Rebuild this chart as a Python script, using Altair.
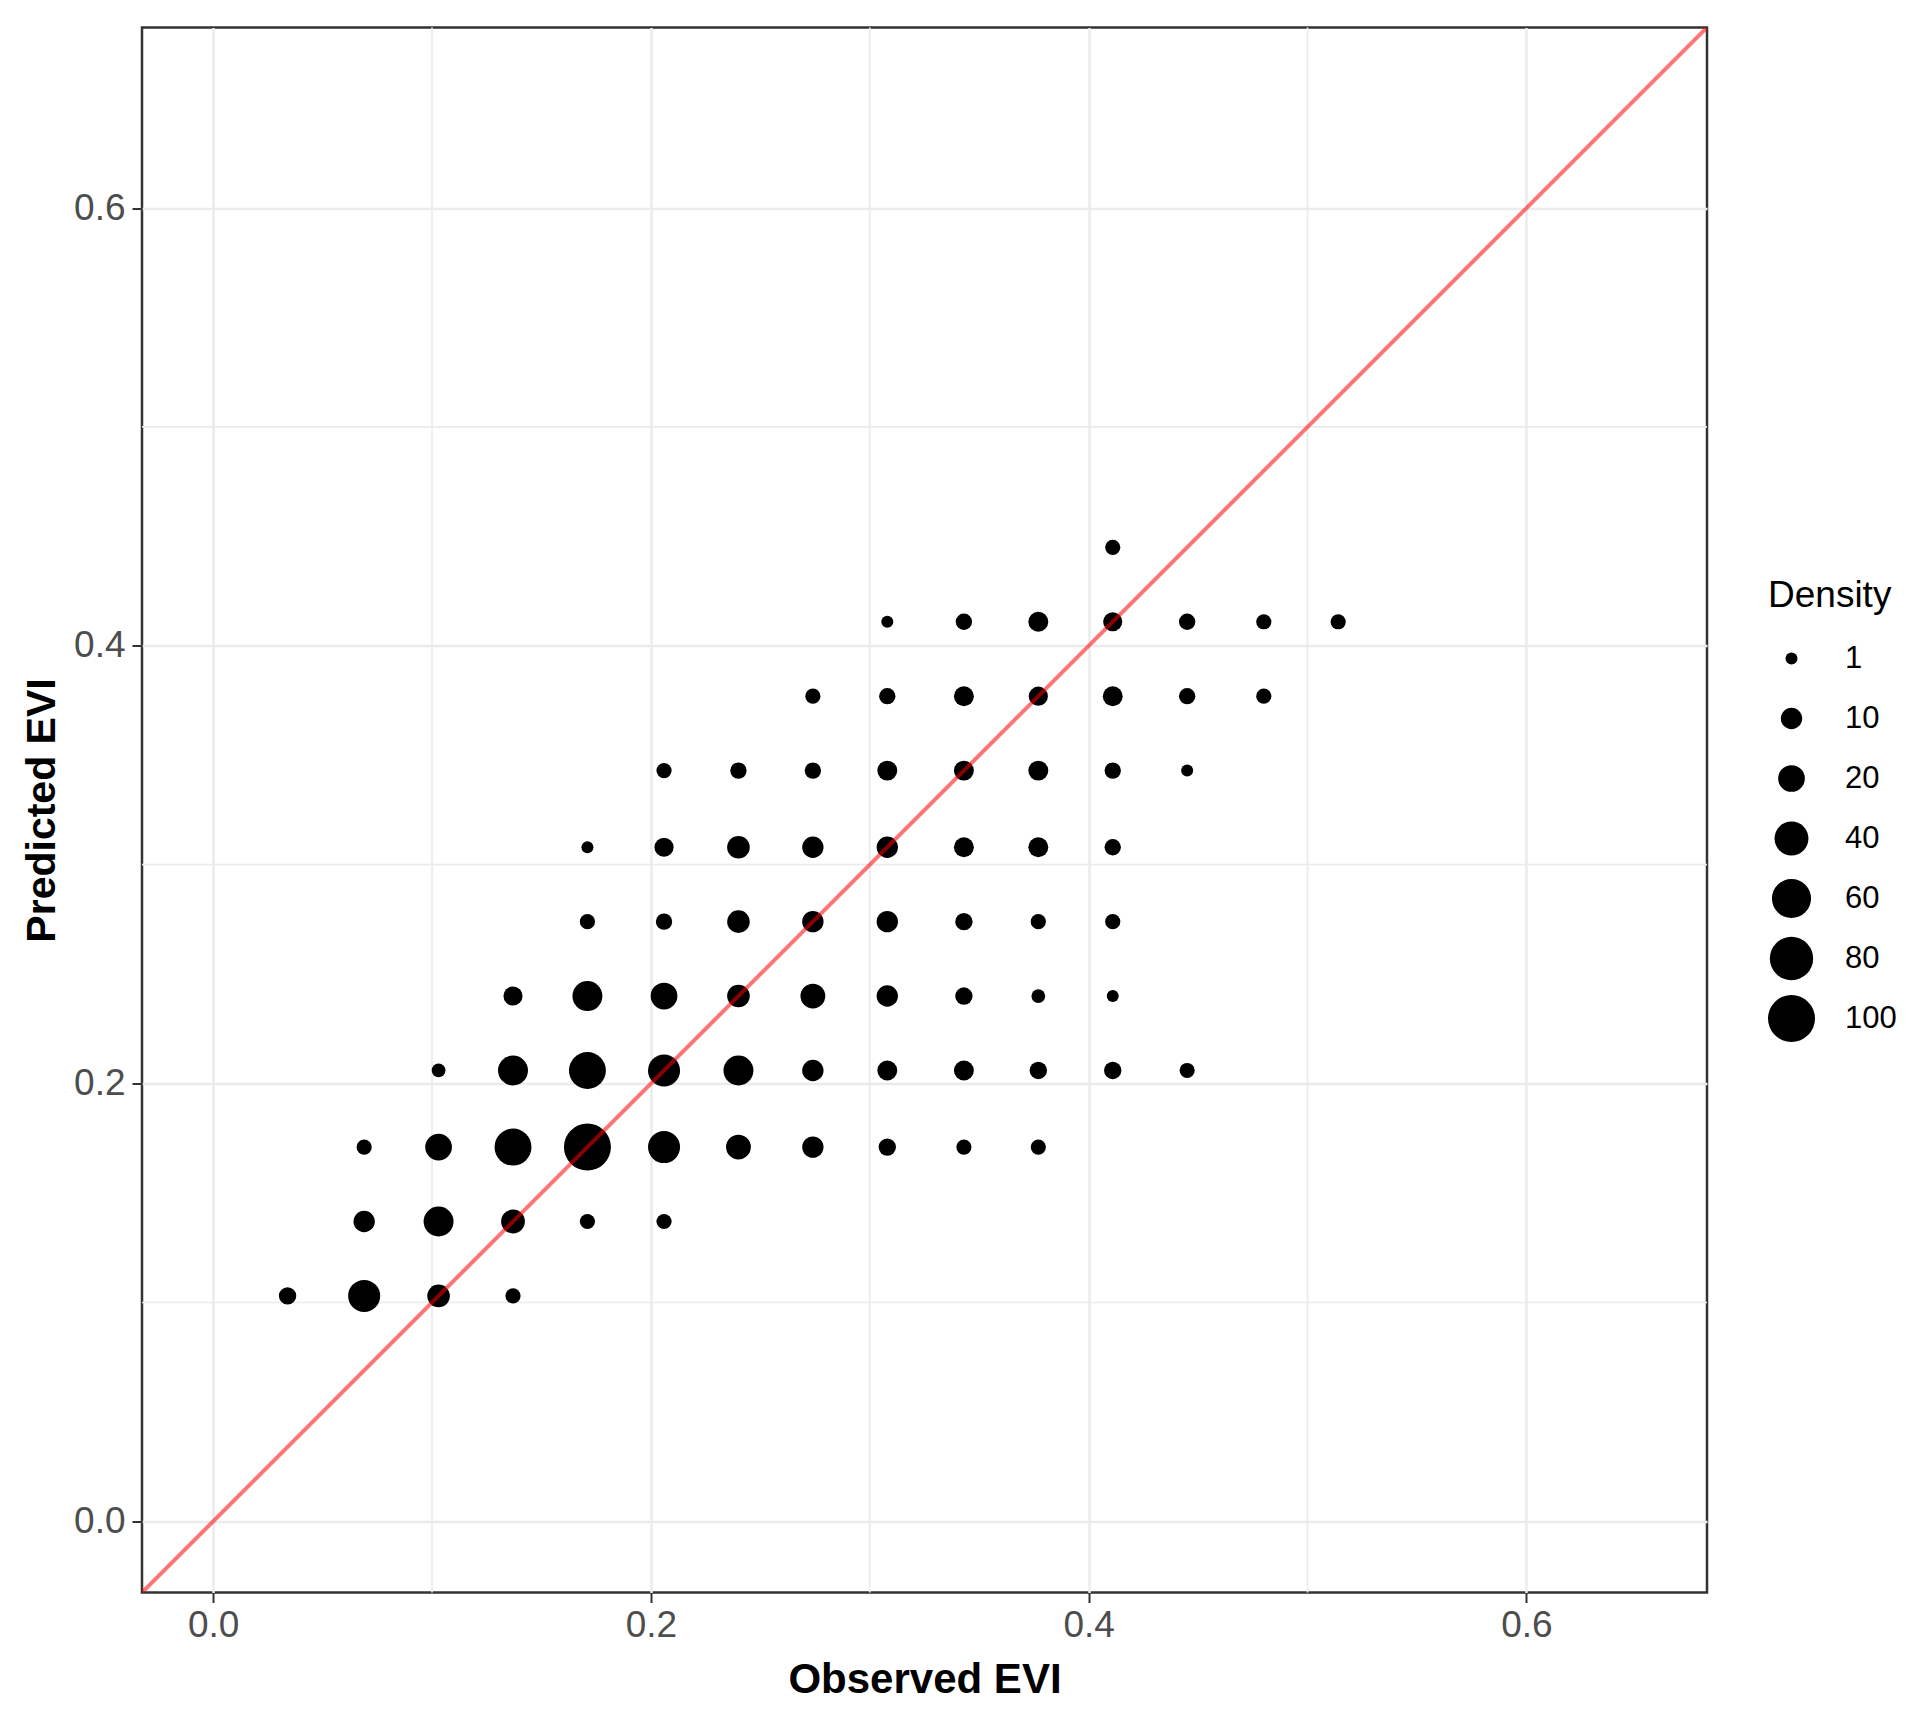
import altair as alt
import pandas as pd

# Binned observed / predicted EVI and number of pixels (Density) in each bin
obs = [
    0.034, 0.069, 0.103, 0.137,
    0.069, 0.103, 0.137, 0.171, 0.206,
    0.069, 0.103, 0.137, 0.171, 0.206, 0.240, 0.274, 0.308, 0.343, 0.377,
    0.103, 0.137, 0.171, 0.206, 0.240, 0.274, 0.308, 0.343, 0.377, 0.411, 0.445,
    0.137, 0.171, 0.206, 0.240, 0.274, 0.308, 0.343, 0.377, 0.411,
    0.171, 0.206, 0.240, 0.274, 0.308, 0.343, 0.377, 0.411,
    0.171, 0.206, 0.240, 0.274, 0.308, 0.343, 0.377, 0.411,
    0.206, 0.240, 0.274, 0.308, 0.343, 0.377, 0.411, 0.445,
    0.274, 0.308, 0.343, 0.377, 0.411, 0.445, 0.480,
    0.308, 0.343, 0.377, 0.411, 0.445, 0.480, 0.514,
    0.411,
]
pred = [
    0.103, 0.103, 0.103, 0.103,
    0.137, 0.137, 0.137, 0.137, 0.137,
    0.171, 0.171, 0.171, 0.171, 0.171, 0.171, 0.171, 0.171, 0.171, 0.171,
    0.206, 0.206, 0.206, 0.206, 0.206, 0.206, 0.206, 0.206, 0.206, 0.206, 0.206,
    0.240, 0.240, 0.240, 0.240, 0.240, 0.240, 0.240, 0.240, 0.240,
    0.274, 0.274, 0.274, 0.274, 0.274, 0.274, 0.274, 0.274,
    0.308, 0.308, 0.308, 0.308, 0.308, 0.308, 0.308, 0.308,
    0.343, 0.343, 0.343, 0.343, 0.343, 0.343, 0.343, 0.343,
    0.377, 0.377, 0.377, 0.377, 0.377, 0.377, 0.377,
    0.411, 0.411, 0.411, 0.411, 0.411, 0.411, 0.411,
    0.445,
]
density = [
    5, 34, 12, 3,
    10, 28, 14, 3, 3,
    3, 20, 51, 100, 34, 16, 10, 5, 3, 3,
    2, 28, 51, 34, 28, 10, 8, 8, 5, 5, 3,
    7, 28, 20, 12, 16, 10, 5, 2, 1,
    3, 4, 12, 10, 10, 5, 3, 3,
    1, 7, 12, 10, 10, 8, 8, 4,
    3, 4, 4, 8, 8, 8, 4, 1,
    3, 4, 8, 7, 8, 4, 3,
    1, 4, 8, 7, 4, 3, 3,
    3,
]

major_ticks = [0.0, 0.2, 0.4, 0.6]
minor_grid = [0.1, 0.3, 0.5]
axis_domain = [-0.0325, 0.6825]
legend_breaks = [1, 10, 20, 40, 60, 80, 100]

FONT = "Liberation Sans"
GRID = "#EBEBEB"

df = pd.DataFrame({"obs": obs, "pred": pred, "Density": density})
line_df = pd.DataFrame({"obs": axis_domain, "pred": axis_domain})
minor_df = pd.DataFrame({"obs": minor_grid, "pred": minor_grid})

xs = alt.Scale(domain=axis_domain, nice=False, zero=False)
ys = alt.Scale(domain=axis_domain, nice=False, zero=False)

axis_common = dict(
    values=major_ticks,
    format=".1f",
    grid=True,
    gridColor=GRID,
    gridWidth=2.5,
    domain=False,
    ticks=True,
    tickColor="#333333",
    tickWidth=2,
    tickSize=10,
    labelFont=FONT,
    labelFontSize=37,
    labelColor="#4D4D4D",
    titleFont=FONT,
    titleFontWeight="bold",
    titleColor="#000000",
)

x_axis = alt.Axis(title="Observed EVI", labelPadding=5, titlePadding=16,
                  titleFontSize=42, **axis_common)
y_axis = alt.Axis(title="Predicted EVI", labelPadding=7, titlePadding=10,
                  titleFontSize=41, **axis_common)

X = alt.X("obs:Q", scale=xs, axis=x_axis)
Y = alt.Y("pred:Q", scale=ys, axis=y_axis)

minor_v = alt.Chart(minor_df).mark_rule(color=GRID, strokeWidth=1.7).encode(x=X)
minor_h = alt.Chart(minor_df).mark_rule(color=GRID, strokeWidth=1.7).encode(y=Y)

points = alt.Chart(df).mark_circle(color="black", opacity=1).encode(
    x=X,
    y=Y,
    size=alt.Size(
        "Density:Q",
        scale=alt.Scale(type="pow", exponent=0.75, domain=[1, 100],
                        range=[144, 2209], zero=False, nice=False),
        legend=alt.Legend(
            title="Density",
            values=legend_breaks,
            orient="none",
            legendX=1626,
            legendY=550,
            padding=0,
            titleFont=FONT,
            titleFontSize=37,
            titleFontWeight="normal",
            titleColor="#000000",
            titlePadding=14,
            labelFont=FONT,
            labelFontSize=31,
            labelColor="#000000",
            labelOffset=30,
            symbolType="circle",
            symbolFillColor="black",
            symbolStrokeWidth=0,
            symbolOpacity=1,
            clipHeight=60,
            rowPadding=0,
        ),
    ),
)

diag = alt.Chart(line_df).mark_line(color="#FF0000", opacity=0.55, strokeWidth=4,
                                    clip=True).encode(x=X, y=Y)

chart = (
    alt.layer(minor_v, minor_h, points, diag)
    .properties(
        width=1565,
        height=1565,
        padding={"left": 134, "top": 19.5, "right": 200, "bottom": 110},
        autosize=alt.AutoSizeParams(type="none"),
        background="white",
    )
    .configure_view(stroke="#333333", strokeWidth=2.5)
)

chart.save("out.html", embed_options={"renderer": "svg", "actions": False})
